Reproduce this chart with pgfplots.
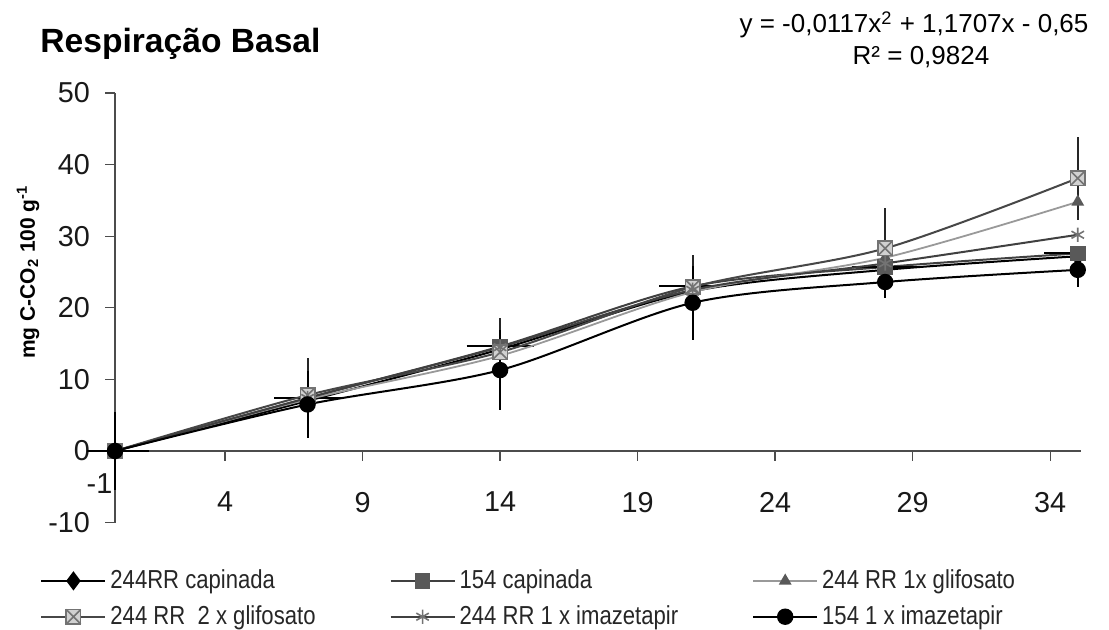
\documentclass[border=0pt]{standalone}
\usepackage{fontspec}
\setmainfont{Liberation Sans}
\newfontfamily\narrowfont[FakeStretch=0.85]{Liberation Sans}
\usepackage{pgfplots}
\pgfplotsset{compat=1.18}
\usepackage{pgfplotstable}

\pgfdeclareplotmark{sqx}{%
  \pgfpathrectangle{\pgfpoint{-\pgfplotmarksize}{-\pgfplotmarksize}}{\pgfpoint{2\pgfplotmarksize}{2\pgfplotmarksize}}%
  \pgfusepathqfillstroke
  \pgfpathmoveto{\pgfpoint{-\pgfplotmarksize}{-\pgfplotmarksize}}%
  \pgfpathlineto{\pgfpoint{\pgfplotmarksize}{\pgfplotmarksize}}%
  \pgfpathmoveto{\pgfpoint{-\pgfplotmarksize}{\pgfplotmarksize}}%
  \pgfpathlineto{\pgfpoint{\pgfplotmarksize}{-\pgfplotmarksize}}%
  \pgfusepathqstroke}

% 244RR capinada
\pgfplotstableread{
x y
0 0
7 7.0
14 14.2
21 22.3
28 25.3
35 27.2
}\sA
% 154 capinada (with x error bars)
\pgfplotstableread{
x y ex
0 0 1
7 7.4 1
14 14.6 1
21 23.0 1
28 25.7 1
35 27.6 1
}\sB
% 244 RR 1x glifosato
\pgfplotstableread{
x y
0 0
7 7.2
14 13.3
21 22.2
28 27.0
35 34.8
}\sC
% 244 RR 2x glifosato (with y error bars)
\pgfplotstableread{
x y ey
0 0 5.5
7 7.8 5.2
14 13.8 4.8
21 22.9 4.5
28 28.3 5.6
35 38.1 5.8
}\sD
% 244 RR 1x imazetapir
\pgfplotstableread{
x y
0 0
7 7.4
14 14.5
21 22.5
28 26.2
35 30.2
}\sE
% 154 1x imazetapir (with y error bars)
\pgfplotstableread{
x y ey
0 0 5.5
7 6.5 4.7
14 11.3 5.6
21 20.7 5.2
28 23.6 2.2
35 25.3 2.4
}\sF

\begin{document}
\begin{tikzpicture}
\useasboundingbox (-43.75pt,-53.7pt) rectangle (510.75pt,261.3pt);
\begin{axis}[
  at={(0pt,0pt)}, anchor=south west,
  scale only axis, width=496.5pt, height=214.8pt,
  xmin=-1, xmax=35.1, ymin=-10, ymax=50,
  axis x line=middle, axis y line=middle,
  axis line style={-, line width=0.7pt, color=black!70},
  xtick={4,9,...,34}, ytick={-10,0,...,50},
  extra x ticks={-1},
  extra x tick style={major tick length=0pt, tick label style={xshift=6pt, yshift=4pt}},
  tick style={line width=0.7pt, color=black!70},
  major tick length=5pt,
  tick align=outside,
  hide obscured x ticks=false, hide obscured y ticks=false,
  tick label style={font=\fontsize{14.4}{14.4}\selectfont, text=black!90},
  /pgf/number format/assume math mode=true,
  x tick label style={yshift=-12pt},
  y tick label style={xshift=-4pt},
  legend columns=3,
  legend cell align=left,
  legend style={draw=none, fill=none, inner sep=0pt,
    at={(-0.0478,-0.100)}, anchor=north west,
    font=\narrowfont\fontsize{13}{13}\selectfont, text=black!85,
    row sep=3pt,
    /tikz/every even column/.append style={column sep=35pt}},
  legend image code/.code={\draw[mark repeat=2,mark phase=2] plot coordinates {(0pt,0pt) (16pt,0pt) (32pt,0pt)};},
  every axis plot/.append style={smooth, line width=1pt},
]
\addplot[black, mark=diamond*, mark size=4pt, mark options={fill=black, draw=black}] table[x=x,y=y] {\sA};
\addlegendentry{244RR capinada}
\addplot[black!75, mark=square*, mark size=3.4pt, mark options={fill=black!65, draw=black!65},
  error bars/.cd, x dir=both, x explicit, error mark options={mark size=3pt, line width=1pt, black},
  error bar style={black, line width=1pt}] table[x=x,y=y,x error=ex] {\sB};
\addlegendentry{154 capinada}
\addplot[black!40, line width=0.9pt, mark=triangle*, mark size=2.8pt, mark options={fill=black!65, draw=black!65}] table[x=x,y=y] {\sC};
\addlegendentry{244 RR 1x glifosato}
\addplot[black!72, mark=sqx, mark size=3.6pt, mark options={fill=black!18, draw=black!55, line width=0.8pt},
  error bars/.cd, y dir=both, y explicit, error mark=none,
  error bar style={black!85, line width=1pt}] table[x=x,y=y,y error=ey] {\sD};
\addlegendentry{244 RR\ \ 2 x glifosato}
\addplot[black!75, mark=asterisk, mark size=3.6pt, mark options={draw=black!55, line width=0.8pt}] table[x=x,y=y] {\sE};
\addlegendentry{244 RR 1 x imazetapir}
\addplot[black, mark=*, mark size=3.6pt, mark options={fill=black, draw=black},
  error bars/.cd, y dir=both, y explicit, error mark=none,
  error bar style={black, line width=1pt}] table[x=x,y=y,y error=ey] {\sF};
\addlegendentry{154 1 x imazetapir}
\end{axis}
\begin{scope}[x=0.5pt,y=-0.5pt,shift={(-43.75pt,261.3pt)}]
\node[anchor=base west, inner sep=0pt, font=\bfseries\fontsize{16.8}{16.8}\selectfont] at (40,53) {Respiração Basal};
\node[anchor=base, inner sep=0pt, font=\fontsize{13}{13}\selectfont] at (914,33) {y = -0,0117x\textsuperscript{2} + 1,1707x - 0,65};
\node[anchor=base, inner sep=0pt, font=\fontsize{13}{13}\selectfont] at (921,65) {R² = 0,9824};
\node[rotate=90, inner sep=0pt, font=\bfseries\fontsize{10.5}{10.5}\selectfont] at (28,272) {mg C-CO\textsubscript{2} 100 g\textsuperscript{-1}};
\end{scope}
\end{tikzpicture}
\end{document}
